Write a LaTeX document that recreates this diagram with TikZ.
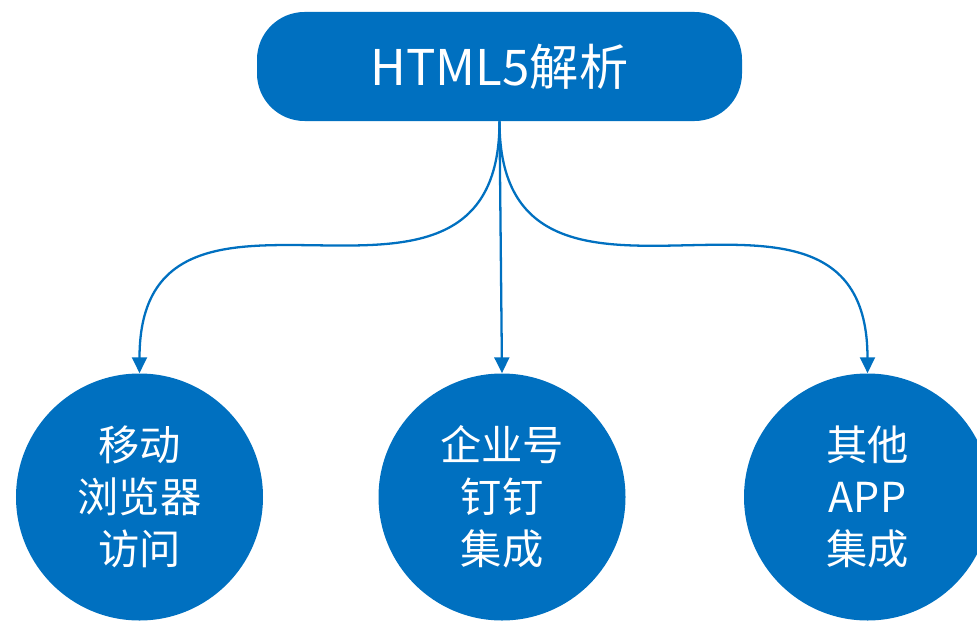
\documentclass[tikz,border=0pt]{standalone}
\usepackage{fontspec}
\setmainfont{Noto Sans CJK SC}
\usepackage{tikz}
\usetikzlibrary{
  arrows.meta  % Triangle 箭头样式
}
\definecolor{hblue}{HTML}{0070C0}

\begin{document}
\begin{tikzpicture}[>={Triangle[length=9pt,width=8.5pt]},
  rootbox/.style={fill=hblue, text=white, rounded corners=0.95cm,
    minimum width=9.7cm, minimum height=2.18cm, inner sep=0pt,
    font=\fontsize{28}{32}\selectfont},
  leafball/.style={circle, fill=hblue, text=white, minimum size=4.94cm,
    inner sep=0pt, align=center, font=\fontsize{23.5}{29.6}\selectfont},
  link/.style={->, line width=1.3pt, hblue}]

  % =========== 画布范围 ===========
  \useasboundingbox (0,0) rectangle (19.54,12.4);

  % =========== 顶部节点 ===========
  \node[rootbox] (root) at (9.99,11.07) {HTML5解析};

  % =========== 三个圆形节点 ===========
  \node[leafball] (mobile)   at (2.79,2.46)  {移动\\浏览器\\访问};
  \node[leafball] (dingtalk) at (10.04,2.46) {企业号\\钉钉\\集成};
  \node[leafball] (otherapp) at (17.35,2.46) {其他\\APP\\集成};

  % =========== 连接箭头 ===========
  \draw[link] (root.south) to[out=-90, in=90, looseness=1.45] (mobile.north);
  \draw[link] (root.south) -- (dingtalk.north);
  \draw[link] (root.south) to[out=-90, in=90, looseness=1.45] (otherapp.north);

\end{tikzpicture}
\end{document}
